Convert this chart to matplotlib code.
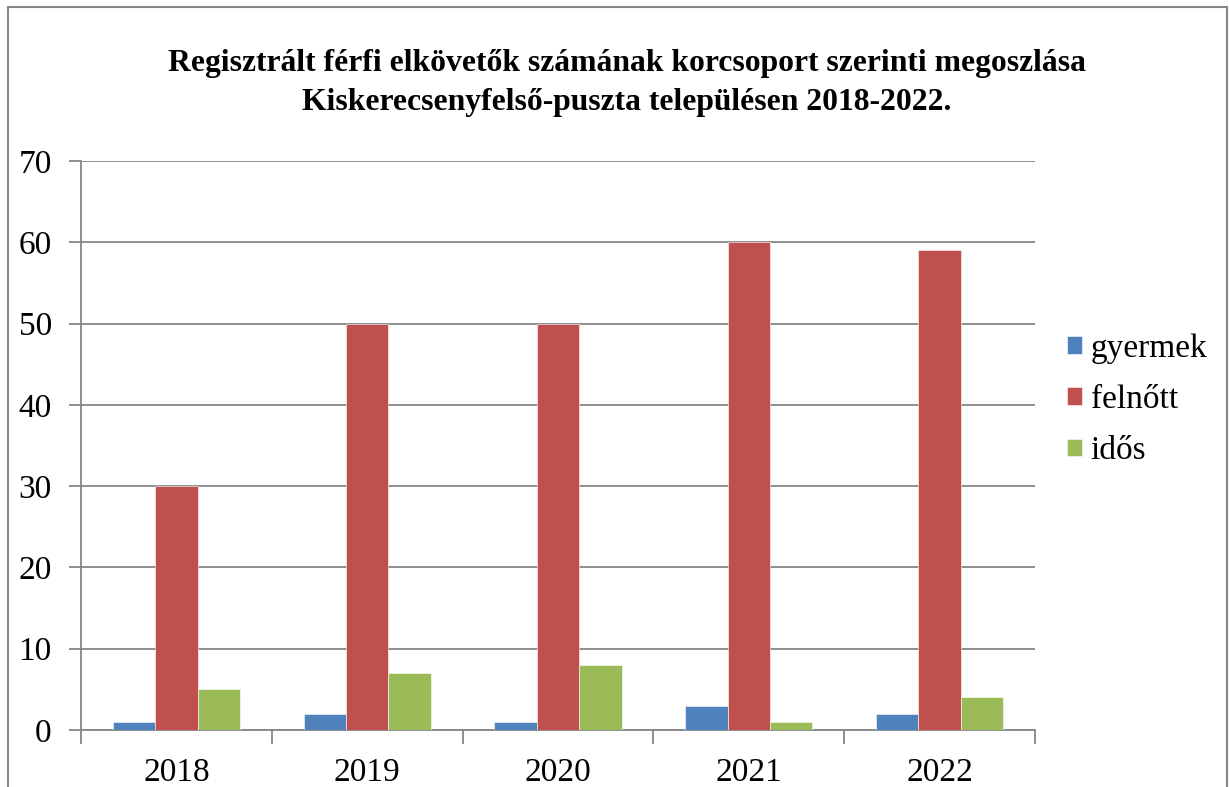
import numpy as np
import matplotlib
matplotlib.use("Agg")
from matplotlib import pyplot as plt
from matplotlib.patches import Rectangle

years = ["2018", "2019", "2020", "2021", "2022"]
gyermek = [1, 2, 1, 3, 2]
felnott = [30, 50, 50, 60, 59]
idos = [5, 7, 8, 1, 4]
series = [("gyermek", gyermek, "#4F81BD"),
          ("felnőtt", felnott, "#C0504D"),
          ("idős", idos, "#9BBB59")]

plt.rcParams["font.family"] = ["Liberation Serif", "DejaVu Serif"]
grid_c = "#868686"

fig = plt.figure(figsize=(12.3, 7.87), dpi=100)
# outer chart frame
fig.patches.append(Rectangle((8 / 1230, -0.01), 1219 / 1230, 1 - 7 / 787 + 0.01,
                             transform=fig.transFigure, fill=False,
                             edgecolor=grid_c, linewidth=1.5))

ax = fig.add_axes([81 / 1230, 1 - 730 / 787, (1035 - 81) / 1230, (730 - 161) / 787])

x = np.arange(len(years))
bw = 1 / 4.5
for i, (name, vals, col) in enumerate(series):
    ax.bar(x + (i - 1) * bw, vals, width=bw, color=col, label=name,
           edgecolor="white", linewidth=0.4, zorder=3)

ax.set_xlim(-0.5, len(years) - 0.5)
ax.set_ylim(0, 70)
ax.set_yticks(range(0, 71, 10))
ax.yaxis.grid(True, color=grid_c, linewidth=1.3, zorder=0)
ax.set_xticks(x)
ax.set_xticklabels(years)
ax.set_xticks(np.arange(-0.5, len(years)), minor=True)
ax.tick_params(axis="x", which="major", length=0, pad=20, labelsize=24)
ax.tick_params(axis="x", which="minor", length=10, width=1.3, color=grid_c)
ax.tick_params(axis="y", length=9, width=1.3, color=grid_c, pad=12, labelsize=24)
for s in ["top", "right"]:
    ax.spines[s].set_visible(False)
for s in ["left", "bottom"]:
    ax.spines[s].set_color(grid_c)
    ax.spines[s].set_linewidth(1.3)

fig.text(627 / 1230, 1 - 83 / 787,
         "Regisztrált férfi elkövetők számának korcsoport szerinti megoszlása\n"
         "Kiskerecsenyfelső-puszta településen 2018-2022.",
         ha="center", va="center", fontsize=22.8, fontweight="bold", linespacing=1.45)

ax.legend(loc="center left", bbox_to_anchor=(1.02, 0.58), frameon=False,
          fontsize=24, handlelength=0.45, handleheight=0.45, handletextpad=0.25,
          labelspacing=0.62, borderaxespad=0)

fig.savefig("out.png", dpi=100)
